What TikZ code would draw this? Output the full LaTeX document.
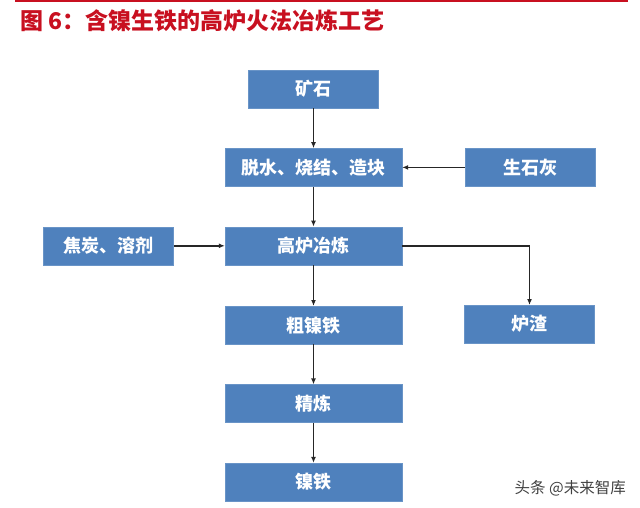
\documentclass[tikz,border=0pt]{standalone}
\usepackage{fontspec}
\newfontfamily\cjk{Noto Sans CJK SC}
\usetikzlibrary{arrows.meta, positioning}
\definecolor{boxblue}{RGB}{79,129,189}
\definecolor{titlered}{RGB}{200,16,32}

\begin{document}
\begin{tikzpicture}[
    x=1pt, y=-1pt,
    node distance=40pt and 63pt,
    box/.style={rectangle, draw=boxblue!85!white, fill=boxblue, minimum width=177pt, minimum height=38pt, align=center, font=\cjk\bfseries\fontsize{18}{21}\selectfont, text=white, inner sep=0pt},
    smallbox/.style={box, minimum width=130pt},
    arrow/.style={-{Latex[length=6pt, width=5pt]}, line width=1.5pt, black!85},
    title/.style={font=\cjk\bfseries\fontsize{23}{27}\selectfont, text=titlered, anchor=west, inner sep=0pt},
    wmark/.style={font=\cjk\fontsize{15.5}{18}\selectfont, text=black!75, anchor=east, inner sep=0pt}
]
\useasboundingbox (0,0) rectangle (640,508);
\draw[titlered, line width=1.5pt] (15,1) -- (628,1);

% Title
\node[title] (ttl) at (20,21) {图 6：含镍生铁的高炉火法冶炼工艺};

% Main column
\node[smallbox] (ore) at (313.5,89) {矿石};
\node[box, below=40pt of ore] (dehyd) {脱水、烧结、造块};
\node[box, below=40pt of dehyd] (furnace) {高炉冶炼};
\node[box, below=41pt of furnace] (crude) {粗镍铁};
\node[box, below=40pt of crude] (refine) {精炼};
\node[box, below=40pt of refine] (nife) {镍铁};

% Side inputs and outputs
\node[smallbox, right=63pt of dehyd] (lime) {生石灰};
\node[smallbox, left=51pt of furnace] (coke) {焦炭、溶剂};
\node[smallbox, anchor=north] (slag) at (529.5,305) {炉渣};

\draw[arrow] (ore) -- (dehyd);
\draw[arrow] (lime) -- (dehyd);
\draw[arrow] (dehyd) -- (furnace);
\draw[arrow] (coke) -- (furnace);
\draw[arrow] (furnace) -- (crude);
\draw[arrow] (furnace.east) -| (slag.north);
\draw[arrow] (crude) -- (refine);
\draw[arrow] (refine) -- (nife);

% Watermark
\node[wmark] (wm) at (626,488) {头条 @未来智库};

\end{tikzpicture}
\end{document}
